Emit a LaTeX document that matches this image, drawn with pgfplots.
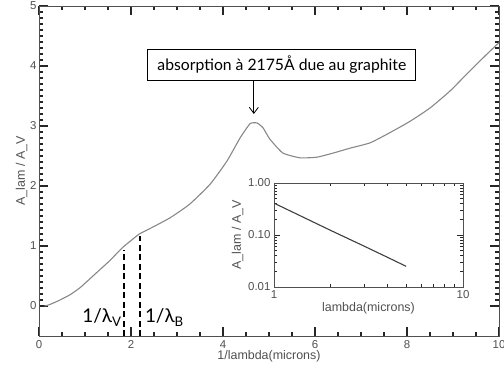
\documentclass[border=0pt]{standalone}
\usepackage{pgfplots}
\pgfplotsset{compat=1.18}
\usepackage{fontspec}
\setmainfont{Liberation Sans}
\newfontfamily\annfont{Lato}
\usetikzlibrary{arrows.meta}
\definecolor{axgray}{HTML}{505050}
\definecolor{curvegray}{HTML}{888888}
\begin{document}
\begin{tikzpicture}
\useasboundingbox (-39bp,-36bp) rectangle (465bp,336bp);
\begin{axis}[at={(0bp,0bp)}, anchor=south west, scale only axis,
  width=460bp, height=330bp,
  xmin=0, xmax=10, ymin=-0.5, ymax=5,
  xtick={0,2,...,10}, ytick={0,1,...,5},
  minor x tick num=3, minor y tick num=9,
  major tick length=9bp, minor tick length=4.5bp,
  every tick/.append style={black!85, line width=1.2bp},
  axis line style={axgray, line width=0.9bp},
  ticklabel style={font=\fontsize{11.5}{12}\selectfont, text=axgray},
  /pgf/number format/assume math mode=true,
  xticklabel style={yshift=-1bp},
  yticklabel style={xshift=1bp},
  xlabel={1/lambda(microns)}, ylabel={A\_lam / A\_V},
  label style={font=\fontsize{12.5}{13}\selectfont, text=axgray},
  xlabel style={yshift=5bp},
  ylabel style={yshift=-4bp},
  clip=false]
\addplot[curvegray, line width=1.1bp, smooth, tension=0.3] coordinates {
(0.12,0.0) (0.22,0.02) (0.43,0.09) (0.68,0.19) (0.9,0.31) (1.23,0.54) (1.53,0.75) (1.81,0.97) (2.0,1.09) (2.18,1.2) (2.41,1.29) (2.85,1.47) (3.28,1.7) (3.72,2.03) (4.09,2.42) (4.37,2.8) (4.59,3.04) (4.74,3.05) (4.87,2.97) (5.02,2.78) (5.3,2.55) (5.67,2.47) (6.04,2.48) (6.4,2.55) (6.76,2.63) (7.2,2.72) (7.63,2.89) (8.07,3.08) (8.5,3.3) (8.93,3.58) (9.37,3.92) (9.74,4.2) (10,4.39)};
\addplot[black, line width=1.8bp, dash pattern=on 6bp off 3.5bp] coordinates {(1.85,-0.5) (1.85,0.93)};
\addplot[black, line width=1.8bp, dash pattern=on 6bp off 3.5bp] coordinates {(2.2,-0.5) (2.2,1.17)};
\node[anchor=base east, font=\annfont\fontsize{19}{20}\selectfont, inner sep=0pt] at (axis cs:1.80,-0.283) {1/λ\textsubscript{V}};
\node[anchor=base west, font=\annfont\fontsize{19}{20}\selectfont, inner sep=0pt] at (axis cs:2.30,-0.283) {1/λ\textsubscript{B}};
\node[draw=black, line width=0.8bp, fill=white, minimum width=268bp, minimum height=31bp, inner sep=0pt, font=\annfont\fontsize{15.8}{17}\selectfont] at (axis cs:5.28,4.025) {absorption à 2175Å due au graphite};
\draw[-{Straight Barb[length=6bp,width=9bp]}, line width=0.8bp] (axis cs:4.67,3.77) -- (axis cs:4.67,3.2);
\end{axis}
\begin{axis}[at={(235bp,49bp)}, anchor=south west, scale only axis,
  width=189bp, height=104bp,
  xmode=log, ymode=log,
  xmin=1, xmax=10, ymin=0.01, ymax=1,
  xtick={1,10}, xticklabels={1,10},
  ytick={0.01,0.1,1}, yticklabels={0.01,0.10,1.00},
  major tick length=6bp, minor tick length=3bp,
  every tick/.append style={black!85, line width=1bp},
  axis line style={axgray, line width=0.9bp},
  ticklabel style={font=\fontsize{11.5}{12}\selectfont, text=axgray},
  /pgf/number format/assume math mode=true,
  xlabel={lambda(microns)}, ylabel={A\_lam / A\_V},
  label style={font=\fontsize{12.5}{13}\selectfont, text=axgray},
  xlabel style={yshift=3bp},
  ylabel style={yshift=-2bp},
  axis background/.style={fill=white}]
\addplot[black!75, line width=1.1bp] coordinates {(1,0.41) (2,0.122) (3,0.061) (4,0.037) (5,0.025)};
\end{axis}
\end{tikzpicture}
\end{document}
